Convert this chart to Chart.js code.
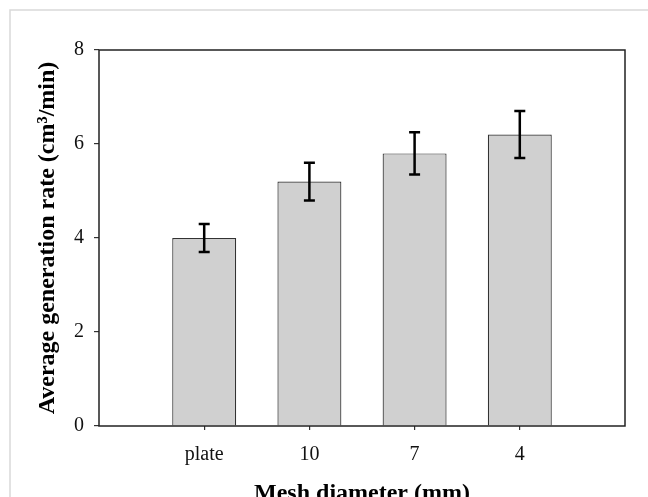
<!DOCTYPE html>
<html><head><meta charset="utf-8">
<script src="https://cdn.jsdelivr.net/npm/chart.js@4"></script>
<style>html,body{margin:0;padding:0;background:#fff;overflow:hidden}</style>
</head><body>
<canvas id="c" width="648" height="497"></canvas>
<script>
const categories = ['plate', '10', '7', '4'];
const rates = [4.0, 5.2, 5.8, 6.2];
const errLow = [3.7, 4.8, 5.35, 5.7];
const errHigh = [4.3, 5.6, 6.25, 6.7];
const yTicks = [0, 2, 4, 6, 8];

const FONT = "'Liberation Serif', 'Times New Roman', serif";

const framePlugin = {
  id: 'frame',
  beforeDraw(chart) {
    const ctx = chart.ctx;
    ctx.save();
    ctx.fillStyle = '#fff';
    ctx.fillRect(0, 0, chart.width, chart.height);
    ctx.strokeStyle = '#d9d9d9';
    ctx.lineWidth = 1.5;
    ctx.beginPath();
    ctx.moveTo(10, chart.height);
    ctx.lineTo(10, 10);
    ctx.lineTo(chart.width, 10);
    ctx.stroke();
    ctx.restore();
  },
  afterDatasetsDraw(chart) {
    const ctx = chart.ctx;
    const x = chart.scales.x, y = chart.scales.y;
    ctx.save();
    ctx.strokeStyle = '#000';
    ctx.lineWidth = 2.5;
    ctx.lineCap = 'butt';
    categories.forEach((c, i) => {
      const px = x.getPixelForValue(i + 1);
      const lo = y.getPixelForValue(errLow[i]);
      const hi = y.getPixelForValue(errHigh[i]);
      ctx.beginPath();
      ctx.moveTo(px, lo); ctx.lineTo(px, hi);
      ctx.moveTo(px - 5.5, lo); ctx.lineTo(px + 5.5, lo);
      ctx.moveTo(px - 5.5, hi); ctx.lineTo(px + 5.5, hi);
      ctx.stroke();
    });
    const a = chart.chartArea;
    ctx.strokeStyle = '#222';
    ctx.lineWidth = 1.5;
    ctx.strokeRect(a.left, a.top, a.right - a.left, a.bottom - a.top);
    ctx.restore();
  }
};

new Chart(document.getElementById('c'), {
  type: 'bar',
  data: {
    datasets: [{
      data: rates.map((v, i) => ({ x: i + 1, y: v })),
      backgroundColor: '#d0d0d0',
      borderColor: '#333',
      borderWidth: 1.2,
      barPercentage: 0.608,
      categoryPercentage: 1
    }]
  },
  options: {
    responsive: false,
    animation: false,
    devicePixelRatio: 1,
    layout: { padding: { left: 0, top: 50, right: 23, bottom: 0 } },
    plugins: { legend: { display: false }, tooltip: { enabled: false } },
    scales: {
      x: {
        type: 'linear',
        offset: false,
        min: 0,
        max: categories.length + 1,
        afterBuildTicks: s => { s.ticks = categories.map((c, i) => ({ value: i + 1 })); },
        afterFit: s => { s.height = 71; },
        ticks: {
          callback: v => categories[v - 1],
          font: { family: FONT, size: 20 },
          color: '#111',
          padding: 13,
          maxRotation: 0
        },
        grid: { offset: false, drawOnChartArea: false, drawTicks: true, tickLength: 4, color: '#333', lineWidth: 1.2 },
        border: { display: false },
        title: {
          display: true,
          text: 'Mesh diameter (mm)',
          font: { family: FONT, size: 24, weight: 'bold', lineHeight: 0.6 },
          color: '#000',
          padding: { top: 0, bottom: -4 }
        }
      },
      y: {
        min: 0,
        max: 8,
        afterBuildTicks: s => { s.ticks = yTicks.map(v => ({ value: v })); },
        afterFit: s => { s.width = 99; },
        ticks: {
          font: { family: FONT, size: 20 },
          color: '#111',
          padding: 10
        },
        grid: { drawOnChartArea: false, drawTicks: true, tickLength: 5, color: '#333', lineWidth: 1.2 },
        border: { display: false },
        title: {
          display: true,
          text: 'Average generation rate (cm³/min)',
          font: { family: FONT, size: 24, weight: 'bold' },
          color: '#000',
          padding: { top: 33, bottom: 0 }
        }
      }
    }
  },
  plugins: [framePlugin]
});
</script>
</body></html>
